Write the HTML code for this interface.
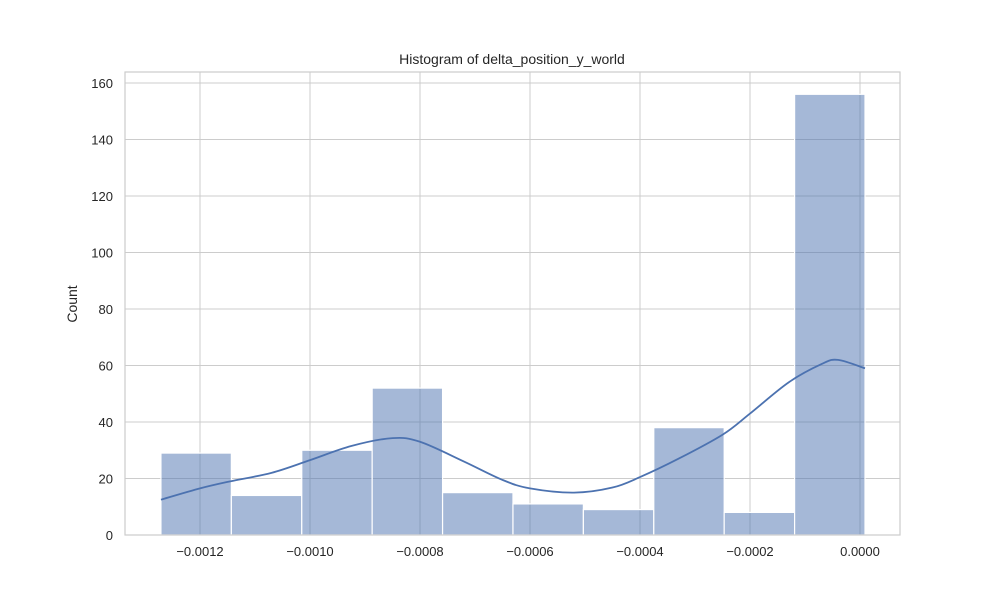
<!DOCTYPE html>
<html><head><meta charset="utf-8"><style>
body{margin:0;background:#fff;font-family:"Liberation Sans","DejaVu Sans",sans-serif;}
</style></head><body>
<svg id="chart" width="1000" height="600" xmlns="http://www.w3.org/2000/svg">
<rect width="1000" height="600" fill="#fff"/>
<g id="grid"></g><g id="bars"></g><g id="kde"></g><g id="axes"></g>
<text x="512" y="64" text-anchor="middle" font-size="14" fill="#262626">Histogram of delta_position_y_world</text>
<text transform="translate(77,304) rotate(-90)" text-anchor="middle" font-size="14" fill="#262626">Count</text>
</svg>
<script>
const binStart=-0.001271, binEnd=0.0000091;
const counts=[29,14,30,52,15,11,9,38,8,156];
const xTicks=[-0.0012,-0.0010,-0.0008,-0.0006,-0.0004,-0.0002,0];
const xTickLabels=["−0.0012","−0.0010","−0.0008","−0.0006","−0.0004","−0.0002","0.0000"];
const yTicks=[0,20,40,60,80,100,120,140,160];
const kdeX=[-0.001271,-0.0012,-0.001145,-0.00107,-0.001,-0.000925,-0.00085,-0.0008,-0.00072,-0.00065,-0.0006,-0.00052,-0.00045,-0.0004,-0.00033,-0.00025,-0.0002,-0.00013,-0.00007,-0.00004,0.0000091];
const kdeY=[12.5,16.5,19,22,26.5,31.5,34.3,33,26,19.5,16.5,15,16.8,20.5,27,35.5,43,54,60.5,62,59];
const NS="http://www.w3.org/2000/svg";
const L=125,R=900,T=72,B=535;
const xs=v=>860+(v/0.0002)*110;
const ys=v=>B-v*(452/160);
function mk(tag,attrs,parent){const e=document.createElementNS(NS,tag);for(const k in attrs)e.setAttribute(k,attrs[k]);document.getElementById(parent).appendChild(e);return e;}
xTicks.forEach((t,i)=>{
 const g=mk('line',{x1:xs(t),x2:xs(t),y1:T,y2:B,stroke:'#cccccc','stroke-width':1},'grid');
 
 
 const tx=mk('text',{x:xs(t),y:B+21,'text-anchor':'middle','font-size':13,fill:'#262626'},'axes');
 tx.textContent=xTickLabels[i];
 
 
});
yTicks.forEach(t=>{
 const g=mk('line',{x1:L,x2:R,y1:ys(t),y2:ys(t),stroke:'#cccccc','stroke-width':1},'grid');
 
 
 const tx=mk('text',{x:L-12,y:ys(t)+5,'text-anchor':'end','font-size':13,fill:'#262626'},'axes');
 tx.textContent=t;
 
 
});
const bw=(binEnd-binStart)/counts.length;
counts.forEach((c,i)=>{
 const x0=xs(binStart+i*bw),x1=xs(binStart+(i+1)*bw);
 const r=mk('rect',{x:x0,y:ys(c),width:x1-x0,height:B-ys(c),fill:'rgba(76,114,176,0.5)',stroke:'#fff','stroke-width':1.2},'bars');
 
 
});
const pts=kdeX.map((x,i)=>[xs(x),ys(kdeY[i])]);
let d='M'+pts[0][0]+','+pts[0][1];
for(let i=0;i<pts.length-1;i++){
 const p0=pts[Math.max(0,i-1)],p1=pts[i],p2=pts[i+1],p3=pts[Math.min(pts.length-1,i+2)];
 const c1=[p1[0]+(p2[0]-p0[0])/6,p1[1]+(p2[1]-p0[1])/6];
 const c2=[p2[0]-(p3[0]-p1[0])/6,p2[1]-(p3[1]-p1[1])/6];
 d+=' C'+c1[0]+','+c1[1]+' '+c2[0]+','+c2[1]+' '+p2[0]+','+p2[1];
}
const p=mk('path',{d:d,fill:'none',stroke:'#4c72b0','stroke-width':1.8},'kde');


const f=mk('rect',{x:L,y:T,width:R-L,height:B-T,fill:'none',stroke:'#cccccc','stroke-width':1.2},'axes');


</script>
</body></html>
